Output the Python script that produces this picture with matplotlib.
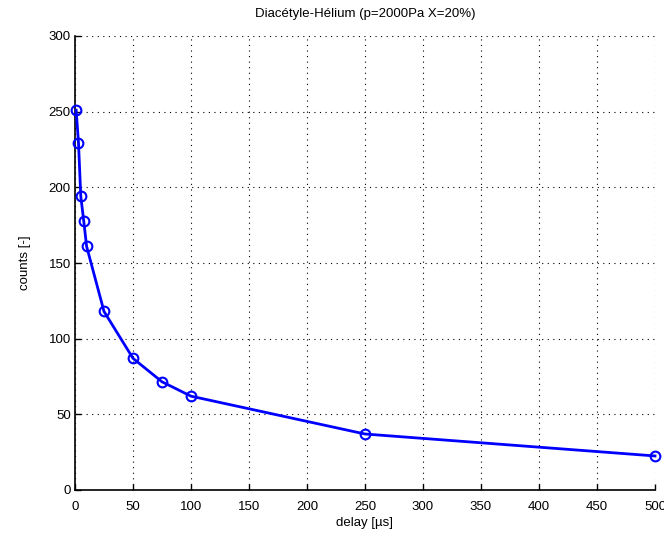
import matplotlib
matplotlib.use("Agg")
import matplotlib.pyplot as plt

matplotlib.rcParams['xtick.direction'] = 'in'
matplotlib.rcParams['ytick.direction'] = 'in'
matplotlib.rcParams['font.family'] = ['Liberation Sans', 'DejaVu Sans']

delay = [1, 3, 5, 7.5, 10, 25, 50, 75, 100, 250, 500]
counts = [251, 229.5, 194, 178, 161, 118, 87, 71.5, 62, 37, 22.5]
xticks = [0, 50, 100, 150, 200, 250, 300, 350, 400, 450, 500]
yticks = [0, 50, 100, 150, 200, 250, 300]

fig = plt.figure(figsize=(6.64, 5.4), dpi=100)
ax = fig.add_axes([75/664, 50/540, 580/664, 454/540])

ax.plot(delay, counts, "-o", color=(0, 0, 1), lw=2, ms=7, mfc="none", mew=1.5,
        clip_on=False, zorder=3)
ax.set_xlim(0, 500)
ax.set_ylim(0, 300)
ax.set_xticks(xticks)
ax.set_yticks(yticks)
ax.tick_params(labelsize=9.5, length=4, width=1)
ax.tick_params(axis="x", pad=8)
ax.tick_params(axis="y", pad=3)
ax.grid(True, linestyle=(0, (1, 4)), color="k", lw=0.8)
for s in ["top", "right"]:
    ax.spines[s].set_visible(False)
for s in ["left", "bottom"]:
    ax.spines[s].set_linewidth(1.2)

ax.set_xlabel("delay [µs]", fontsize=9.5, labelpad=2.5)
ax.set_ylabel("counts [-]", fontsize=9.5, labelpad=13)
ax.set_title("Diacétyle-Hélium (p=2000Pa X=20%)", fontsize=9.5, pad=14)

fig.savefig("out.png", dpi=100)
